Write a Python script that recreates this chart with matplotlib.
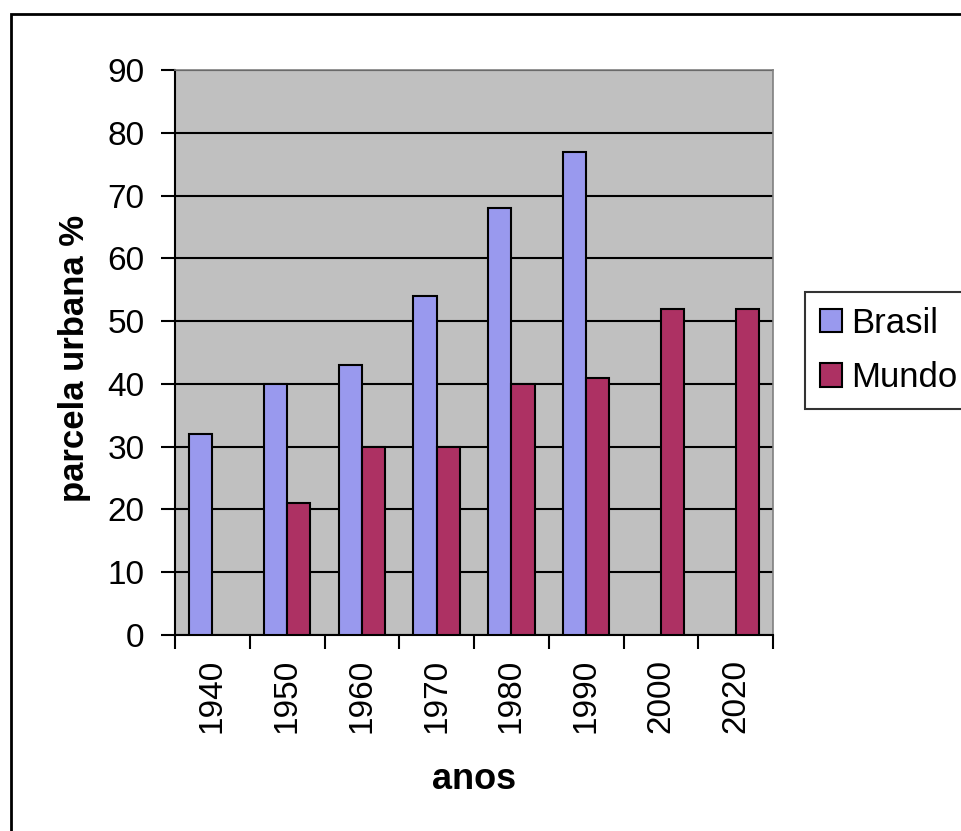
import numpy as np
import matplotlib.pyplot as plt
from matplotlib.patches import Rectangle

anos = ['1940', '1950', '1960', '1970', '1980', '1990', '2000', '2020']
brasil = [32, 40, 43, 54, 68, 77, None, None]
mundo = [None, 21, 30, 30, 40, 41, 52, 52]

plt.rcParams['font.family'] = ['Liberation Sans', 'DejaVu Sans']

fig = plt.figure(figsize=(9.61, 8.31), dpi=100)
ax = fig.add_axes([0.1821, 0.2359, 0.6223, 0.6799])
ax.set_facecolor('#c0c0c0')

# moldura em volta do gráfico
fig.patches.append(Rectangle((11 / 961, -0.1), 1.2, 1 - 14 / 831 + 0.1,
                             transform=fig.transFigure, fill=False,
                             edgecolor='black', linewidth=2, zorder=0))

x = np.arange(len(anos))
w = 0.31
xb = [i for i, v in zip(x, brasil) if v is not None]
hb = [v for v in brasil if v is not None]
xm = [i for i, v in zip(x, mundo) if v is not None]
hm = [v for v in mundo if v is not None]
ax.bar(np.array(xb) - w / 2, hb, w, color='#9999ee', edgecolor='black',
       linewidth=1.5, label='Brasil', zorder=3)
ax.bar(np.array(xm) + w / 2, hm, w, color='#ad3163', edgecolor='black',
       linewidth=1.5, label='Mundo', zorder=3)

ax.set_xlim(-0.5, len(anos) - 0.5)
ax.set_ylim(0, 90)
ax.set_yticks(np.arange(0, 91, 10))
ax.yaxis.grid(True, color='black', linewidth=1.5, zorder=1)
ax.set_axisbelow(True)

ax.set_xticks(x)
ax.set_xticklabels(anos, rotation=90, fontsize=24)
ax.set_xticks(np.arange(-0.5, len(anos)), minor=True)
ax.tick_params(axis='x', which='major', length=0, pad=17)
ax.tick_params(axis='x', which='minor', length=10, width=1.5, direction='out')
ax.tick_params(axis='y', length=10, width=1.5, pad=12, labelsize=24)

for s in ['left', 'bottom']:
    ax.spines[s].set_linewidth(1.5)
    ax.spines[s].set_color('black')
for s in ['top', 'right']:
    ax.spines[s].set_linewidth(1.2)
    ax.spines[s].set_color('#808080')

ax.set_ylabel('parcela urbana %', fontsize=25, fontweight='bold')
ax.yaxis.set_label_coords(-0.140, 0.49)
ax.set_xlabel('anos', fontsize=26, fontweight='bold')
ax.xaxis.set_label_coords(0.5, -0.225)

leg = fig.legend(loc='upper left', bbox_to_anchor=(805 / 961, 1 - 292 / 831),
                 fontsize=25, frameon=True, fancybox=False, edgecolor='black',
                 handlelength=0.65, handleheight=0.65, handletextpad=0.25,
                 borderpad=0.42, labelspacing=0.62, borderaxespad=0)
leg.get_frame().set_linewidth(1.5)

fig.savefig('out.png', dpi=100)
